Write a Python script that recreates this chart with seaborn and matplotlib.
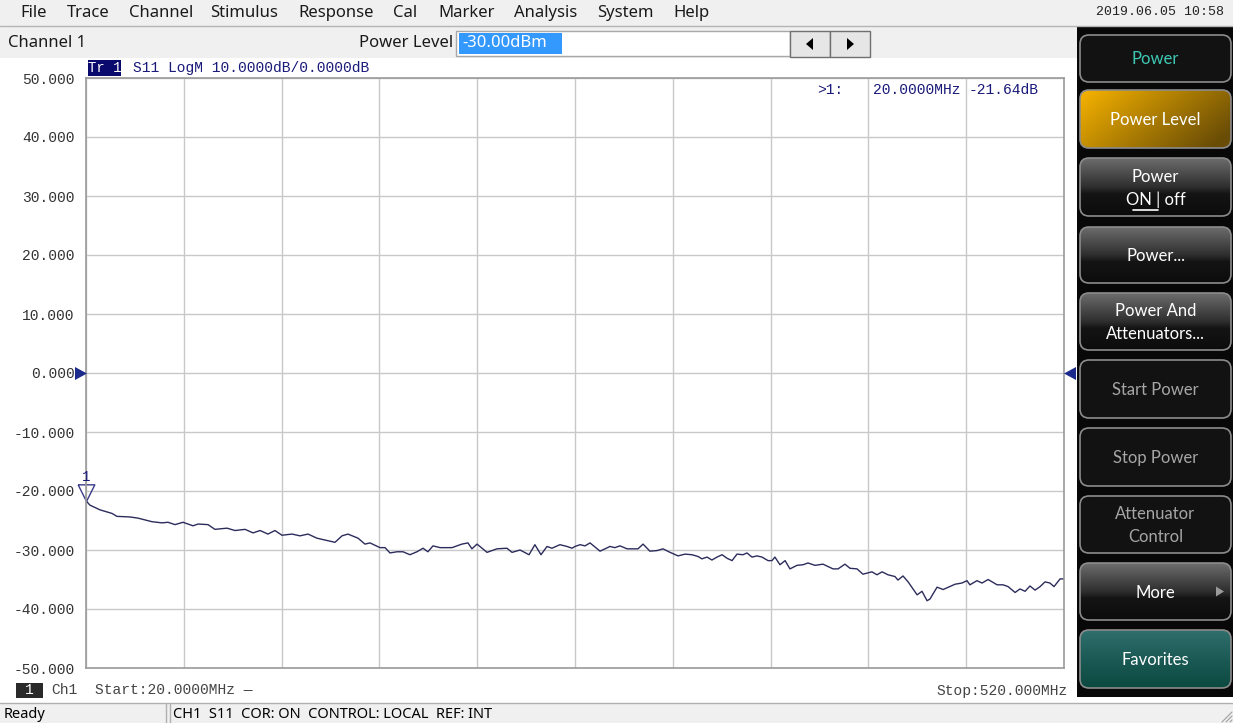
import numpy as np
import pandas as pd
import seaborn as sns
import matplotlib.pyplot as plt
import matplotlib.patches as mpatches
from matplotlib.path import Path
from matplotlib.colors import to_rgb

# S11 trace (MHz, dB)
freq_mhz = [20.0, 22.0, 27.2, 33.3, 35.8, 42.5, 46.6, 53.7, 58.9, 61.9,
            65.5, 69.6, 74.7, 77.3, 82.4, 85.9, 92.1, 96.2, 101.3, 105.4,
            109.0, 113.0, 116.6, 120.2, 125.3, 129.4, 133.5, 138.1, 144.7,
            147.3, 150.9, 153.9, 159.1, 162.6, 165.2, 170.3, 172.9, 175.4, 179.0,
            182.1, 185.6, 189.2, 192.3, 194.8, 197.4, 201.0, 207.1, 212.2, 215.3,
            217.3, 219.9, 222.5, 225.0, 230.1, 235.2, 237.8, 241.9, 246.5, 249.5,
            252.6, 255.7, 258.2, 262.3, 265.9, 268.5, 270.0,
            272.6, 275.1, 277.7, 282.8, 287.9, 290.4, 293.0, 296.6, 302.2, 304.8,
            308.3, 311.9, 315.0, 318.6, 322.7, 326.2, 329.8, 332.9, 334.9, 337.5,
            340.0, 342.6, 345.2, 347.7, 350.3, 352.8, 355.9, 357.9, 360.5, 363.0,
            365.6, 368.7, 370.7, 372.2, 374.8, 377.4, 379.9, 383.5, 386.6, 389.1, 392.7,
            396.8, 401.9, 404.5, 408.0, 410.6, 414.2, 417.2, 421.8, 424.4, 427.0,
            430.0, 433.6, 435.1, 437.7, 440.3, 444.9, 447.4, 450.0, 451.5, 455.1,
            458.2, 464.3, 467.8, 470.4, 471.9, 475.5, 478.1, 481.2, 485.8, 488.8,
            491.4, 495.0, 497.5, 500.1, 502.6, 505.2, 507.8, 510.3, 512.8, 514.9,
            518.0, 520.0]
s11_db = [-21.64, -22.4, -23.2, -23.8, -24.3, -24.4, -24.6, -25.2, -25.4, -25.3,
          -25.7, -25.3, -25.9, -25.6, -25.7, -26.5, -26.3, -26.7, -26.5, -27.1,
          -26.7, -27.3, -26.7, -27.5, -27.3, -27.6, -27.3, -28.0, -28.5,
          -28.7, -27.6, -27.3, -28.0, -29.0, -28.8, -29.6, -29.6, -30.5, -30.3,
          -30.3, -30.8, -30.3, -29.7, -30.3, -29.3, -29.6, -29.6, -29.0, -28.8,
          -29.8, -29.0, -29.7, -30.4, -29.8, -29.7, -30.4, -30.0, -30.8, -29.1,
          -30.8, -29.4, -29.7, -29.1, -29.4, -29.7, -29.4,
          -29.1, -29.3, -28.8, -30.2, -29.4, -29.6, -29.3, -29.8, -29.8, -29.0,
          -30.2, -30.1, -29.8, -30.4, -31.0, -30.7, -30.8, -31.1, -31.5, -31.2,
          -31.7, -31.2, -30.8, -31.4, -31.8, -30.7, -30.8, -30.5, -31.2, -31.0,
          -31.2, -31.8, -31.8, -31.2, -32.5, -31.8, -33.2, -32.6, -32.5, -32.2, -32.6,
          -32.4, -33.2, -33.2, -32.4, -33.1, -33.2, -34.1, -33.7, -34.2, -33.7,
          -34.2, -34.5, -35.1, -34.4, -35.4, -37.6, -37.0, -38.6, -38.3, -36.3,
          -36.7, -35.8, -35.6, -35.2, -35.9, -35.2, -35.6, -35.0, -35.9, -35.9,
          -36.2, -37.2, -36.6, -37.0, -36.1, -36.8, -36.2, -35.4, -35.6, -36.2,
          -34.9, -34.9]

y_ticks = [50, 40, 30, 20, 10, 0, -10, -20, -30, -40, -50]
x_ticks = [20, 70, 120, 170, 220, 270, 320, 370, 420, 470, 520]

menu_items = ["File", "Trace", "Channel", "Stimulus", "Response", "Cal",
              "Marker", "Analysis", "System", "Help"]
menu_x = [20, 67, 129, 210, 298, 393, 438, 514, 597, 673]

softkeys = ["Power", "Power Level", "Power", "Power...", "Power And\nAttenuators...",
            "Start Power", "Stop Power", "Attenuator\nControl", "More", "Favorites"]
softkey_y = [(35, 82), (90, 148), (158, 216), (227, 283), (293, 350),
             (360, 418), (428, 486), (496, 553), (563, 620), (630, 688)]
softkey_kind = ["plain", "orange", "gray", "gray", "gray",
                "dim", "dim", "dim", "gray", "teal"]

df = pd.DataFrame({"freq": freq_mhz, "s11": s11_db})

sns.set_style("white")
plt.rcParams['font.family'] = ['Noto Sans', 'DejaVu Sans']
MONO = ['Liberation Mono', 'DejaVu Sans Mono']
BTN = ['Lato', 'DejaVu Sans']
NAVY = '#1a1a7a'

W, H = 1233, 723
fig = plt.figure(figsize=(W / 100, H / 100), dpi=100, facecolor='white')

# main measurement grid
ax = fig.add_axes([86 / W, (H - 668) / H, 978 / W, 590 / H])
sns.lineplot(data=df, x="freq", y="s11", ax=ax, color='#2c2c5c', lw=1.0)
ax.set_xlim(20, 520)
ax.set_ylim(-50, 50)
ax.set_xticks(x_ticks)
ax.set_xticklabels([])
ax.set_yticks(y_ticks)
ax.set_yticklabels([f"{v:.3f}" for v in y_ticks], family=MONO, fontsize=10.5, color='#333333')
ax.tick_params(length=0, pad=8)
ax.set_xlabel("")
ax.set_ylabel("")
ax.grid(True, color='#c8c8c8', lw=1)
for s in ax.spines.values():
    s.set_color('#9a9a9a')
    s.set_linewidth(1.2)

# marker 1 at the first point
tri = Path([(-0.5, 1.0), (0.5, 1.0), (0.0, 0.0), (-0.5, 1.0)])
ax.plot([freq_mhz[0]], [s11_db[0]], ls='none', marker=tri, ms=24, mfc='none',
        mec='#3a3a8a', mew=1.0, clip_on=False)
ax.annotate("1", (freq_mhz[0], s11_db[0]), xytext=(0, 17), textcoords='offset points',
            ha='center', va='center', family=MONO, fontsize=10, color=NAVY, annotation_clip=False)

# pixel overlay for the instrument UI
ui = fig.add_axes([0, 0, 1, 1], zorder=5)
ui.patch.set_alpha(0)
ui.axis('off')


def rect(x0, y0, x1, y1, fc, ec='none', lw=0, z=1):
    ui.add_patch(mpatches.Rectangle((x0, y0), x1 - x0, y1 - y0, fc=fc, ec=ec, lw=lw, zorder=z))


def poly(pts, fc, ec='none', z=3):
    ui.add_patch(mpatches.Polygon(pts, closed=True, fc=fc, ec=ec, lw=0.8, zorder=z))


def txt(x, y, s, **kw):
    kw.setdefault('va', 'center')
    kw.setdefault('zorder', 6)
    ui.text(x, y, s, **kw)


def grad(stops, n=80):
    pos = [p for p, c in stops]
    cols = np.array([to_rgb(c) for p, c in stops])
    t = np.linspace(0, 1, n)
    return np.stack([np.interp(t, pos, cols[:, i]) for i in range(3)], axis=-1)


# menu bar
rect(0, 0, W, 26, '#f0f0f0')
ui.plot([0, W], [26, 26], color='#b4b4b4', lw=1)
for name, x in zip(menu_items, menu_x):
    txt(x, 13, name, fontsize=12, color='#1a1a1a')
txt(1224, 12, "2019.06.05 10:58", family=MONO, fontsize=9.5, ha='right', color='#222222')

# channel row
rect(0, 27, 1077, 58, '#f0f0f0')
txt(8, 43, "Channel 1", fontsize=12, color='#1a1a1a')
txt(453, 43, "Power Level", fontsize=12, ha='right', color='#1a1a1a')
rect(456, 31, 790, 56, 'white', ec='#a8a8a8', lw=1)
rect(459, 33, 562, 54, '#3399ff', z=2)
txt(462, 43, "-30.00dBm", fontsize=12, color='white')
rect(790, 31, 830, 57, '#e6e6e6', ec='#707070', lw=1)
rect(830, 31, 870, 57, '#e6e6e6', ec='#707070', lw=1)
poly([(813, 38), (813, 50), (806, 44)], 'black')
poly([(847, 38), (847, 50), (854, 44)], 'black')

# trace header
rect(88, 60, 121, 76, '#0a0a6e', z=2)
txt(104.5, 68, "Tr 1", family=MONO, fontsize=10, ha='center', color='white')
txt(133, 68, "S11 LogM 10.0000dB/0.0000dB", family=MONO, fontsize=10.5, color=NAVY)

# marker readout
txt(817, 90, ">1:", family=MONO, fontsize=10.5, color=NAVY)
txt(873, 90, f"{freq_mhz[0]:.4f}MHz", family=MONO, fontsize=10.5, color=NAVY)
txt(969, 90, f"{s11_db[0]:.2f}dB", family=MONO, fontsize=10.5, color=NAVY)

# reference level arrows
poly([(75, 367), (87, 373.5), (75, 380)], '#1c2a8c')
poly([(1076, 367), (1064, 373.5), (1076, 380)], '#1c2a8c')

# footer row of the channel window
rect(16, 683, 43, 698, '#2a2a2a', z=2)
txt(29.5, 690.5, "1", family=MONO, fontsize=10.5, ha='center', color='white')
txt(51, 690, "Ch1", family=MONO, fontsize=10.5, color='#444444')
txt(95, 690, "Start:20.0000MHz \u2014", family=MONO, fontsize=10.5, color='#444444')
txt(1068, 691, "Stop:520.000MHz", family=MONO, fontsize=10.5, ha='right', color='#444444')

# status bar
rect(0, 703, W, H, '#f0f0f0')
ui.plot([0, W], [703, 703], color='#b0b0b0', lw=1)
ui.plot([166, 166], [704, H], color='#b0b0b0', lw=1)
ui.plot([170, 170], [704, H], color='#b0b0b0', lw=1)
txt(4, 714, "Ready", fontsize=10.5, color='black')
txt(173, 714, "CH1  S11  COR: ON  CONTROL: LOCAL  REF: INT", fontsize=10.5, color='black')
for k in range(3):
    ui.plot([1230 - 4 * k, 1232], [722, 720 - 4 * k], color='#a0a0a0', lw=0.8)

# softkey panel
rect(1077, 27, W, 697, '#080808')
x0, x1 = 1080, 1231
for i, (label, (y0, y1), kind) in enumerate(zip(softkeys, softkey_y, softkey_kind)):
    box = mpatches.FancyBboxPatch((x0, y0), x1 - x0, y1 - y0,
                                  boxstyle="round,pad=0,rounding_size=9",
                                  fc='#121212', ec='none', zorder=2)
    ui.add_patch(box)
    img = None
    if kind == "gray":
        img = grad([(0, '#6c6c6c'), (0.5, '#2e2e2e'), (0.62, '#141414'), (1, '#0c0c0c')])[:, None, :]
    elif kind == "teal":
        img = grad([(0, '#2f6f6c'), (0.5, '#1b5a55'), (1, '#0c4a40')])[:, None, :]
    elif kind == "orange":
        xx, yy = np.meshgrid(np.linspace(0, 1, 120), np.linspace(0, 1, 60))
        t = np.clip(0.75 * xx + 0.35 * yy, 0, 1)
        c0, c1 = np.array(to_rgb('#f7b300')), np.array(to_rgb('#6a4d06'))
        img = c0 + (c1 - c0) * t[..., None]
    if img is not None:
        im = ui.imshow(img, extent=(x0, x1, y1, y0), origin='upper', aspect='auto',
                       interpolation='bilinear', zorder=3)
        im.set_clip_path(box)
    ui.add_patch(mpatches.FancyBboxPatch((x0, y0), x1 - x0, y1 - y0,
                                         boxstyle="round,pad=0,rounding_size=9",
                                         fc='none', ec='#8c8c8c', lw=1.2, zorder=4))
    cy = (y0 + y1) / 2
    color = 'white'
    if kind == "plain":
        color = '#3ec8b4'
    elif kind == "dim":
        color = '#a6a6a6'
    if i == 2:
        cy -= 11
    txt((x0 + x1) / 2, cy + 1, label, family=BTN, fontsize=12, ha='center',
        color=color, linespacing=1.55)

# second line of the ON | off key with underlined ON
cy = (softkey_y[2][0] + softkey_y[2][1]) / 2
txt(1156, cy + 13, "ON | off", family=BTN, fontsize=12, ha='center', color='white')
ui.plot([1133, 1158], [cy + 23, cy + 23], color='white', lw=1.2, zorder=6)
# arrow on the More key
cy = (softkey_y[8][0] + softkey_y[8][1]) / 2
poly([(1216, cy - 5), (1216, cy + 5), (1224, cy)], '#9a9a9a', z=6)

ui.set_xlim(0, W)
ui.set_ylim(H, 0)

fig.savefig("out.png", dpi=100, facecolor='white')
